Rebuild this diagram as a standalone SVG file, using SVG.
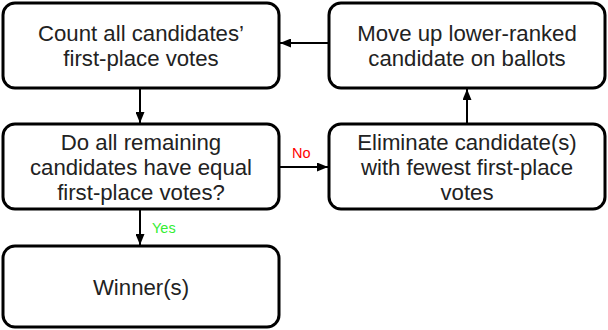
<svg xmlns="http://www.w3.org/2000/svg" width="608" height="330" viewBox="0 0 608 330">
<style>
.box{fill:#fff;stroke:#000;stroke-width:3}
.t{font-family:"Liberation Sans",Arial,sans-serif;font-size:22.2px;fill:#222;text-anchor:middle}
.c{stroke:#000;stroke-width:2;fill:none;marker-end:url(#ah)}
.lbl{font-family:"Liberation Sans",Arial,sans-serif;font-size:14.5px}
</style>
<defs>
<marker id="ah" markerWidth="11" markerHeight="9" refX="11" refY="4.5" orient="auto" markerUnits="userSpaceOnUse">
<path d="M0,0 L11,4.5 L0,9 Z" fill="#000"/>
</marker>
</defs>
<g id="connectors">
<line class="c" x1="140" y1="89" x2="140" y2="123"/>
<line class="c" x1="140" y1="210" x2="140" y2="245"/>
<line class="c" x1="279" y1="167" x2="328" y2="167"/>
<line class="c" x1="467" y1="124" x2="467" y2="89"/>
<line class="c" x1="329" y1="43" x2="280" y2="43"/>
<text class="lbl" x="292" y="158" fill="#ff0000">No</text>
<text class="lbl" x="152" y="233" fill="#33ee33">Yes</text>
</g>
<g id="count">
<rect class="box" x="3" y="3" width="276" height="85" rx="12"/>
<text class="t" x="141" y="40.5">Count all candidates’</text>
<text class="t" x="141" y="65.5">first-place votes</text>
</g>
<g id="moveup">
<rect class="box" x="329" y="3" width="276" height="85" rx="12"/>
<text class="t" x="467" y="40.5">Move up lower-ranked</text>
<text class="t" x="467" y="65.5">candidate on ballots</text>
</g>
<g id="check">
<rect class="box" x="3" y="124" width="276" height="85" rx="12"/>
<text class="t" x="141" y="149.5">Do all remaining</text>
<text class="t" x="141" y="174.5">candidates have equal</text>
<text class="t" x="141" y="199.5">first-place votes?</text>
</g>
<g id="eliminate">
<rect class="box" x="329" y="124" width="276" height="85" rx="12"/>
<text class="t" x="467" y="149.5">Eliminate candidate(s)</text>
<text class="t" x="467" y="174.5">with fewest first-place</text>
<text class="t" x="467" y="199.5">votes</text>
</g>
<g id="winner">
<rect class="box" x="3" y="246" width="276" height="81" rx="12"/>
<text class="t" x="141" y="295">Winner(s)</text>
</g>
</svg>
